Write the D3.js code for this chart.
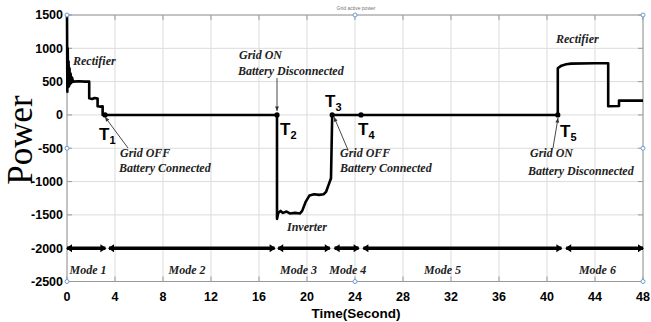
<!DOCTYPE html>
<html>
<head>
<meta charset="utf-8">
<script src="https://cdn.jsdelivr.net/npm/d3@7"></script>
<style>
  body { margin: 0; background: #fff; }
  svg { display: block; }
</style>
</head>
<body>
<div class="canvas"></div>
<script>
// values
const time = [0, 0.03, 0.06, 0.1, 0.13, 0.17, 0.21, 0.25, 0.3, 0.35, 0.42, 0.5, 1.0, 1.5, 1.85,
  1.85, 2.1, 2.3, 2.55, 2.55, 2.8, 2.97, 2.97, 10, 17.5,
  17.5, 17.6, 17.8, 18.0, 18.3, 18.6, 19.0, 19.4, 19.6, 19.9, 20.2, 20.6, 21.0, 21.4, 21.6, 21.8, 22.0, 22.1,
  30, 40.9, 40.9, 41.2, 41.6, 42, 44, 45.1, 45.1, 46, 46, 48]
const power = [1500, 350, 1000, 420, 800, 430, 700, 460, 620, 480, 560, 500, 505, 500, 500,
  250, 240, 255, 245, 130, 125, 130, 0, 0, 0,
  -1560, -1470, -1440, -1470, -1450, -1480, -1470, -1480, -1440, -1300, -1210, -1190, -1200, -1190, -1150, -1050, -950, 0,
  0, 0, 700, 740, 760, 770, 775, 775, 130, 135, 215, 215]

const xTicks = [0, 4, 8, 12, 16, 20, 24, 28, 32, 36, 40, 44, 48]
const yTicks = [1500, 1000, 500, 0, -500, -1000, -1500, -2000, -2500]

const modeStart = [0, 3.5, 17.6, 22.3, 24.7, 41.6]
const modeEnd = [3.2, 17.3, 21.9, 24.3, 41.2, 48]
const modeNames = ['Mode 1', 'Mode 2', 'Mode 3', 'Mode 4', 'Mode 5', 'Mode 6']
const modeLabelX = [1.75, 10, 19.3, 23.4, 31.3, 44.2]
const modeLevel = -2000

const eventNames = ['1', '2', '3', '4', '5']
const eventTime = [3.17, 17.5, 22.1, 24.5, 40.9]

const svg = d3.select('.canvas')
  .append('svg')
  .attr('width', 651)
  .attr('height', 322)

const x = d3.scaleLinear().domain([0, 48]).range([67, 643])
const y = d3.scaleLinear().domain([-2500, 1500]).range([281.5, 15])

// grid
const grid = svg.append('g')
grid.selectAll('.vg').data(xTicks).enter().append('line')
  .attr('x1', d => x(d)).attr('x2', d => x(d))
  .attr('y1', y(1500)).attr('y2', y(-2500))
  .attr('stroke', '#dcdcdc')
grid.selectAll('.hg').data(yTicks).enter().append('line')
  .attr('y1', d => y(d)).attr('y2', d => y(d))
  .attr('x1', x(0)).attr('x2', x(48))
  .attr('stroke', '#dcdcdc')

// box and inner ticks
svg.append('rect')
  .attr('x', x(0)).attr('y', y(1500))
  .attr('width', x(48) - x(0)).attr('height', y(-2500) - y(1500))
  .attr('fill', 'none').attr('stroke', '#9a9a9a')

const ticks = svg.append('g').attr('stroke', '#9a9a9a')
xTicks.forEach(d => {
  ticks.append('line').attr('x1', x(d)).attr('x2', x(d)).attr('y1', y(1500)).attr('y2', y(1500) + 5)
  ticks.append('line').attr('x1', x(d)).attr('x2', x(d)).attr('y1', y(-2500)).attr('y2', y(-2500) - 5)
})
yTicks.forEach(d => {
  ticks.append('line').attr('y1', y(d)).attr('y2', y(d)).attr('x1', x(0)).attr('x2', x(0) + 5)
  ticks.append('line').attr('y1', y(d)).attr('y2', y(d)).attr('x1', x(48)).attr('x2', x(48) - 5)
})

// tick labels
svg.selectAll('.xl').data(xTicks).enter().append('text')
  .attr('x', d => x(d)).attr('y', 301)
  .attr('text-anchor', 'middle')
  .style('font', 'bold 12.5px "Liberation Sans", Arial, sans-serif')
  .text(d => d)
svg.selectAll('.yl').data(yTicks).enter().append('text')
  .attr('x', 63).attr('y', d => y(d)).attr('dy', '0.35em')
  .attr('text-anchor', 'end')
  .style('font', 'bold 12.5px "Liberation Sans", Arial, sans-serif')
  .text(d => d)

svg.append('text')
  .attr('x', 356).attr('y', 318)
  .attr('text-anchor', 'middle')
  .style('font', 'bold 13.5px "Liberation Sans", Arial, sans-serif')
  .text('Time(Second)')

svg.append('text')
  .attr('transform', 'translate(32, 140) rotate(-90)')
  .attr('text-anchor', 'middle')
  .style('font', '35px "Liberation Serif", "Times New Roman", serif')
  .text('Power')

svg.append('text')
  .attr('x', 356).attr('y', 10)
  .attr('text-anchor', 'middle')
  .attr('fill', '#777')
  .style('font', '5px "Liberation Sans", Arial, sans-serif')
  .text('Grid active power')

// power trace
const line = d3.line().x((d, i) => x(time[i])).y(d => y(d))
svg.append('path')
  .attr('d', line(power))
  .attr('fill', 'none')
  .attr('stroke', '#000')
  .attr('stroke-width', 2.6)
  .attr('stroke-linejoin', 'round')

// mode bars with arrowheads
const modes = svg.append('g')
modeStart.forEach((s, i) => {
  const x0 = x(s), x1 = x(modeEnd[i]), yy = y(modeLevel)
  modes.append('line')
    .attr('x1', x0).attr('x2', x1).attr('y1', yy).attr('y2', yy)
    .attr('stroke', '#000').attr('stroke-width', 3.6)
  modes.append('path').attr('d', `M${x0 - 1},${yy} L${x0 + 5},${yy - 4} L${x0 + 5},${yy + 4} Z`)
  modes.append('path').attr('d', `M${x1 + 1},${yy} L${x1 - 5},${yy - 4} L${x1 - 5},${yy + 4} Z`)
})
svg.selectAll('.ml').data(modeNames).enter().append('text')
  .attr('x', (d, i) => x(modeLabelX[i])).attr('y', 274)
  .attr('text-anchor', 'middle')
  .style('font', 'italic bold 12px "Liberation Serif", "Times New Roman", serif')
  .attr('fill', '#222')
  .text(d => d)

// event points
svg.selectAll('.ev').data(eventTime).enter().append('circle')
  .attr('cx', d => x(d)).attr('cy', y(0)).attr('r', 2.6)
  .attr('fill', '#000')

const tLabelPos = [[99, 140], [280, 135], [325, 107], [358, 135], [560, 137]]
eventNames.forEach((n, i) => {
  const t = svg.append('text')
    .attr('x', tLabelPos[i][0]).attr('y', tLabelPos[i][1])
    .style('font', 'bold 17px "Liberation Sans", Arial, sans-serif')
  t.append('tspan').text('T')
  t.append('tspan').attr('dy', 4).style('font-size', '11px').text(n)
})

// annotation texts
const notes = [
  ['Rectifier', 73, 65], ['Rectifier', 556, 43],
  ['Grid OFF', 120, 157], ['Battery Connected', 119, 172],
  ['Grid ON', 239, 59], ['Battery Disconnected', 238, 75],
  ['Grid OFF', 340, 157], ['Battery Connected', 340, 172],
  ['Grid ON', 530, 157], ['Battery Disconnected', 528, 175],
  ['Inverter', 287, 231]
]
svg.selectAll('.nt').data(notes).enter().append('text')
  .attr('x', d => d[1]).attr('y', d => d[2])
  .attr('fill', '#222')
  .style('font', 'italic bold 12px "Liberation Serif", "Times New Roman", serif')
  .text(d => d[0])

// pointer lines
const pointers = [[128, 148, 105, 117], [277, 78, 277, 111], [348, 150, 334, 117], [553, 148, 558, 118]]
pointers.forEach(p => {
  const a = Math.atan2(p[3] - p[1], p[2] - p[0])
  svg.append('line')
    .attr('x1', p[0]).attr('y1', p[1]).attr('x2', p[2]).attr('y2', p[3])
    .attr('stroke', '#333').attr('stroke-width', 0.9)
  const hx = p[2], hy = p[3]
  svg.append('path')
    .attr('d', `M${hx},${hy} L${hx - 5 * Math.cos(a - 0.4)},${hy - 5 * Math.sin(a - 0.4)} L${hx - 5 * Math.cos(a + 0.4)},${hy - 5 * Math.sin(a + 0.4)} Z`)
    .attr('fill', '#333')
})

// figure selection handles
const hx = [0, 24, 48, 0, 48, 0, 24, 48]
const hy = [1500, 1500, 1500, -500, -500, -2500, -2500, -2500]
svg.selectAll('.hd').data(hx).enter().append('circle')
  .attr('cx', d => x(d)).attr('cy', (d, i) => y(hy[i])).attr('r', 2)
  .attr('fill', '#fff').attr('stroke', '#6a9bd1').attr('stroke-width', 1)
</script>
</body>
</html>
